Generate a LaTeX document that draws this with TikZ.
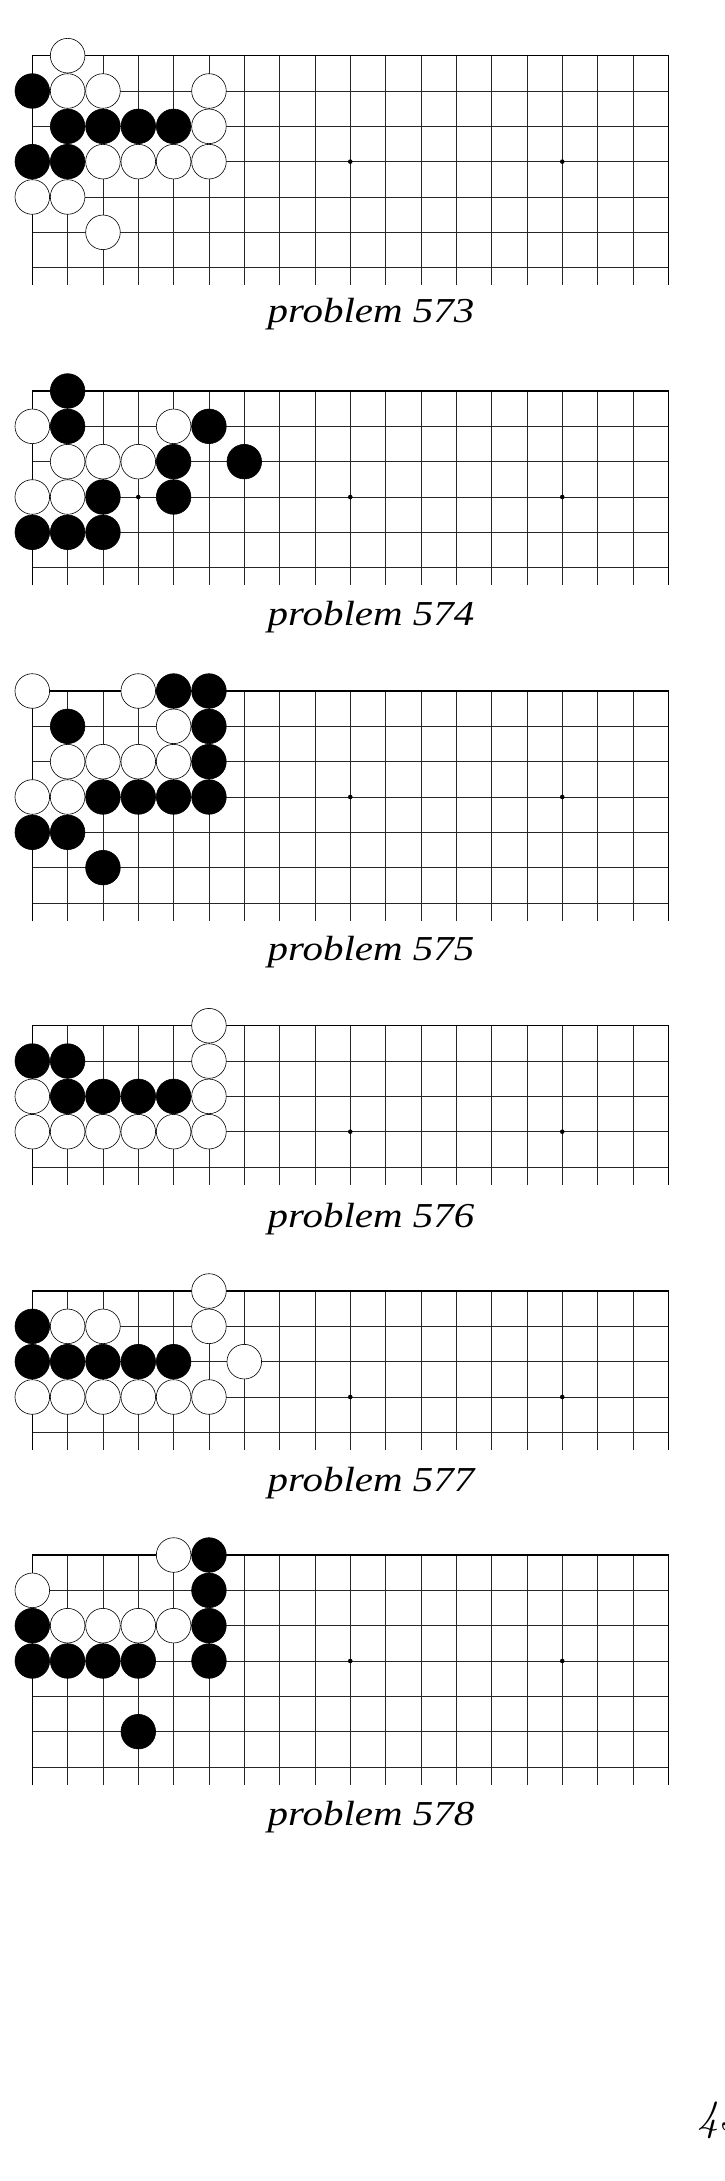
\documentclass[tikz,border=0pt]{standalone}
\usepackage{fontspec}
\newfontfamily\labelfont{Liberation Serif}
\tikzset{
  gridline/.style={line width=0.75pt, black!85},
  edgeline/.style={line width=1.1pt, black},
  wstone/.style={circle, draw=black, fill=white, line width=0.6pt, minimum size=34.6pt, inner sep=0pt},
  bstone/.style={circle, draw=black, fill=black, line width=0.6pt, minimum size=34.6pt, inner sep=0pt},
  hoshi/.style={circle, fill=black, minimum size=4.6pt, inner sep=0pt},
  problabel/.style={anchor=base, inner sep=0pt, font=\labelfont\itshape\fontsize{35}{40}\selectfont},
}
\newcommand\goboard[4]{% #1 name, #2 top y, #3 rows, #4 bottom end y
  \foreach \r in {1,...,\numexpr#3-1\relax}{
    \draw[gridline] (32.3,{#2+35.33*\r}) -- (668.2,{#2+35.33*\r});
  }
  \foreach \c in {1,...,17}{
    \draw[gridline] ({32.3+35.33*\c},#2) -- ({32.3+35.33*\c},#4);
  }
  \draw[edgeline] (32.3,#4) -- (32.3,#2) -- (668.2,#2) -- (668.2,#4);
  \foreach \c in {3,9,15}{
    \node[hoshi] (#1-h\c) at ({32.3+35.33*\c},{#2+35.33*3}) {};
  }
}
\newcommand\putstones[4]{% #1 name, #2 top y, #3 style, #4 list c/r
  \foreach \c/\r in {#4}{
    \node[#3] (#1-#3-\c-\r) at ({32.3+35.33*\c},{#2+35.33*\r}) {};
  }
}
\begin{document}
\begin{tikzpicture}[x=1pt,y=-1pt]
\useasboundingbox (0,0) rectangle (724,2181);
\fill[white] (0,0) rectangle (724,2181);

% problem 573
\goboard{pa}{55.67}{7}{285}
\putstones{pa}{55.67}{wstone}{1/0,1/1,2/1,5/1,5/2,2/3,3/3,4/3,5/3,0/4,1/4,2/5}
\putstones{pa}{55.67}{bstone}{0/1,1/2,2/2,3/2,4/2,0/3,1/3}
\node[problabel] (la) at (371,322.7) {\scalebox{1.17}[1]{problem 573}};

% problem 574
\goboard{pb}{391}{6}{585}
\putstones{pb}{391}{wstone}{0/1,4/1,1/2,2/2,3/2,0/3,1/3}
\putstones{pb}{391}{bstone}{1/0,1/1,5/1,4/2,6/2,2/3,4/3,0/4,1/4,2/4}
\node[problabel] (lb) at (371,625) {\scalebox{1.17}[1]{problem 574}};

% problem 575
\goboard{pc}{691}{7}{921}
\putstones{pc}{691}{wstone}{0/0,3/0,4/1,1/2,2/2,3/2,4/2,0/3,1/3}
\putstones{pc}{691}{bstone}{4/0,5/0,1/1,5/1,5/2,2/3,3/3,4/3,5/3,0/4,1/4,2/5}
\node[problabel] (lc) at (371,960) {\scalebox{1.17}[1]{problem 575}};

% problem 576
\goboard{pd}{1025.7}{5}{1185}
\putstones{pd}{1025.7}{wstone}{5/0,5/1,0/2,5/2,0/3,1/3,2/3,3/3,4/3,5/3}
\putstones{pd}{1025.7}{bstone}{0/1,1/1,1/2,2/2,3/2,4/2}
\node[problabel] (ld) at (371,1227) {\scalebox{1.17}[1]{problem 576}};

% problem 577
\goboard{pe}{1291}{5}{1450}
\putstones{pe}{1291}{wstone}{5/0,1/1,2/1,5/1,6/2,0/3,1/3,2/3,3/3,4/3,5/3}
\putstones{pe}{1291}{bstone}{0/1,0/2,1/2,2/2,3/2,4/2}
\node[problabel] (le) at (371,1491) {\scalebox{1.17}[1]{problem 577}};

% problem 578
\goboard{pf}{1555}{7}{1785}
\putstones{pf}{1555}{wstone}{4/0,0/1,1/2,2/2,3/2,4/2}
\putstones{pf}{1555}{bstone}{5/0,5/1,0/2,5/2,0/3,1/3,2/3,3/3,5/3,3/5}
\node[problabel] (lf) at (371,1825) {\scalebox{1.17}[1]{problem 578}};

% page number (cut by the page edge, as in the reference)
\node[anchor=base west, inner sep=0pt, font=\itshape\fontsize{43}{48}\selectfont] (pagenum) at (697,2130) {43};
\end{tikzpicture}
\end{document}
